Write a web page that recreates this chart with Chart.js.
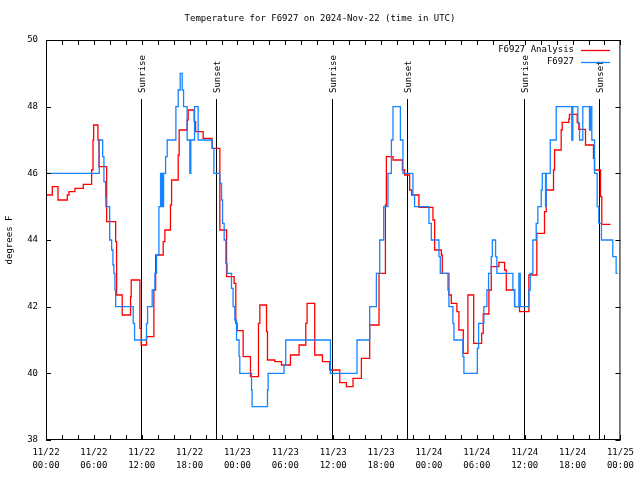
<!DOCTYPE html>
<html>
<head>
<meta charset="utf-8" />
<title>Temperature for F6927</title>
<style>
  html, body { margin: 0; padding: 0; background: #fff; }
  canvas { display: block; }
</style>
</head>
<body>
<canvas id="chart" width="640" height="480"></canvas>
<script src="https://cdn.jsdelivr.net/npm/chart.js@4"></script>
<script>
// hours since 11/22 00:00 UTC where the value changes, and the value (deg F)
var redHours = [0, 0.79, 1.5, 2.67, 2.88, 3.63, 4.67, 5.72, 5.89, 5.97,
  6.51, 6.64, 7.6, 8.73, 8.85, 9.55, 10.6, 10.68, 11.77, 11.93,
  12.6, 13.52, 13.74, 14.69, 14.9, 15.6, 15.74, 16.57, 16.69, 17.69,
  17.82, 18.57, 18.75, 19.7, 20.82, 21.79, 22.63, 23.58, 23.79, 23.96,
  24.71, 25.63, 26.63, 26.8, 27.64, 27.76, 28.68, 29.51, 30.64, 31.72,
  32.56, 32.72, 33.68, 34.65, 35.56, 36.82, 37.65, 38.48, 39.53, 40.57,
  41.74, 42.54, 42.66, 43.49, 44.67, 44.95, 45.58, 45.83, 46.74, 48.5,
  48.71, 49.55, 49.67, 50.5, 50.8, 51.5, 51.75, 52.3, 52.88, 53.6,
  54.6, 54.8, 55.51, 55.81, 56.76, 57.48, 57.69, 58.73, 59.35, 60.52,
  61.52, 62.48, 62.7, 63.61, 63.74, 64.57, 64.7, 65.53, 65.61, 66.58,
  66.78, 67.62, 68.62, 68.75, 69.5, 69.66, 70.75];
var redTemps = [45.35, 45.6, 45.2, 45.35, 45.45, 45.55, 45.67, 46.1, 47.0, 47.45,
  47.0, 46.2, 44.55, 43.95, 42.35, 41.75, 42.3, 42.8, 41.35, 40.85,
  41.1, 42.5, 43.55, 43.95, 44.3, 45.05, 45.8, 46.55, 47.3, 47.6,
  47.9, 47.55, 47.25, 47.05, 46.75, 44.3, 42.9, 42.7, 41.5, 41.28,
  40.5, 39.9, 41.5, 42.05, 41.25, 40.4, 40.35, 40.25, 40.55, 40.85,
  41.5, 42.1, 40.55, 40.35, 40.1, 39.72, 39.6, 39.85, 40.45, 41.45,
  43.0, 45.05, 46.5, 46.4, 46.1, 45.95, 45.5, 45.35, 44.98, 44.6,
  43.7, 43.55, 43.0, 42.35, 42.1, 41.85, 41.3, 40.6, 42.35, 40.9,
  41.2, 41.78, 42.5, 43.2, 43.33, 43.1, 42.5, 42.0, 41.85, 42.95,
  44.2, 44.85, 45.5, 46.1, 46.7, 47.3, 47.53, 47.63, 47.77, 47.53,
  47.32, 46.85, 46.45, 46.1, 45.3, 44.47, 44.47];

var blueHours = [0, 6.67, 7.1, 7.26, 7.47, 7.51, 7.98, 8.23, 8.39, 8.51,
  8.64, 8.73, 10.93, 11.1, 12.6, 12.73, 13.31, 13.65, 13.86, 14.15,
  14.36, 14.48, 14.56, 14.65, 14.74, 14.99, 15.19, 16.28, 16.57, 16.82,
  17.07, 17.24, 17.69, 18.03, 18.15, 18.62, 19.07, 20.82, 21.04, 21.79,
  22.0, 22.13, 22.33, 22.54, 22.7, 23.25, 23.45, 23.67, 23.88, 24.2,
  24.29, 25.76, 25.83, 27.76, 27.84, 29.84, 30.05, 35.65, 38.98, 40.57,
  41.41, 41.83, 42.33, 42.86, 43.29, 43.49, 44.42, 44.74, 45.99, 46.2,
  48.0, 48.3, 49.25, 49.42, 50.38, 50.5, 51.0, 51.13, 52.25, 52.38,
  54.06, 54.22, 54.88, 55.26, 55.47, 55.81, 55.94, 56.35, 56.51, 58.52,
  58.73, 59.27, 59.44, 60.52, 60.69, 61.02, 61.44, 61.65, 62.07, 62.2,
  62.61, 62.7, 63.2, 63.95, 65.9, 66.03, 66.66, 66.87, 67.28, 68.12,
  68.24, 68.41, 68.75, 69.08, 69.29, 69.62, 71.04, 71.46, 71.63];
var blueTemps = [46.0, 47.0, 46.5, 45.75, 45.3, 45.0, 44.0, 43.7, 43.25, 43.0,
  42.5, 42.0, 41.5, 41.0, 41.5, 42.0, 42.5, 43.0, 43.55, 45.0,
  46.0, 45.0, 46.0, 45.0, 46.0, 46.5, 47.0, 48.0, 48.5, 49.0,
  48.5, 48.0, 47.0, 46.0, 47.0, 48.0, 47.0, 46.75, 46.0, 45.7,
  45.2, 44.5, 44.0, 43.3, 43.0, 42.55, 42.0, 41.6, 41.0, 40.5,
  40.0, 39.5, 39.0, 39.5, 40.0, 40.25, 41.0, 40.0, 41.0, 42.0,
  43.0, 44.0, 45.0, 46.0, 47.0, 48.0, 47.0, 46.0, 45.35, 45.0,
  44.5, 44.0, 43.5, 43.0, 42.5, 42.0, 41.5, 41.0, 40.5, 40.0,
  40.75, 41.5, 42.0, 42.5, 43.0, 43.5, 44.0, 43.5, 43.0, 42.5,
  42.0, 43.0, 42.0, 42.5, 43.0, 44.0, 44.5, 45.0, 45.5, 46.0,
  45.0, 46.0, 47.0, 48.0, 47.0, 48.0, 47.5, 47.0, 48.0, 47.3,
  48.0, 47.0, 46.0, 45.0, 44.5, 44.0, 43.5, 43.0, 43.0];

var sunHours = [11.9, 21.3, 35.85, 45.24, 59.9, 69.3];
var sunLabels = ["Sunrise", "Sunset", "Sunrise", "Sunset", "Sunrise", "Sunset"];

var tickHours = [0, 6, 12, 18, 24, 30, 36, 42, 48, 54, 60, 66, 72];
var tickDates = ["11/22", "11/22", "11/22", "11/22", "11/23", "11/23", "11/23",
  "11/23", "11/24", "11/24", "11/24", "11/24", "11/25"];
var tickTimes = ["00:00", "06:00", "12:00", "18:00", "00:00", "06:00", "12:00",
  "18:00", "00:00", "06:00", "12:00", "18:00", "00:00"];

var FONT = '"DejaVu Sans Mono", monospace';
Chart.defaults.font.family = FONT;
Chart.defaults.font.size = 9;
Chart.defaults.color = "#000";

function toPoints(hours, temps) {
  return hours.map(function (h, i) { return { x: h, y: temps[i] }; });
}

// frame, tics, sun lines, title and legend, gnuplot style
var decor = {
  id: "decor",
  beforeDatasetsDraw: function (chart) {
    var c = chart.ctx, a = chart.chartArea, xs = chart.scales.x;
    c.save();
    c.strokeStyle = "#000";
    c.lineWidth = 1;
    c.font = "9px " + FONT;
    c.fillStyle = "#000";
    sunHours.forEach(function (h, i) {
      var px = Math.round(xs.getPixelForValue(h)) + 0.5;
      c.beginPath();
      c.moveTo(px, 99);
      c.lineTo(px, a.bottom);
      c.stroke();
      c.save();
      c.translate(px + 1, 93);
      c.rotate(-Math.PI / 2);
      c.textAlign = "left";
      c.textBaseline = "middle";
      c.fillText(sunLabels[i], 0, 0);
      c.restore();
    });
    c.restore();
  },
  afterDatasetsDraw: function (chart) {
    var c = chart.ctx, a = chart.chartArea, xs = chart.scales.x, ys = chart.scales.y;
    c.save();
    c.strokeStyle = "#000";
    c.lineWidth = 1;
    c.strokeRect(a.left + 0.5, a.top + 0.5, a.right - a.left - 1, a.bottom - a.top - 1);
    c.beginPath();
    for (var h = 0; h <= 72; h += 2) {
      var px = Math.round(xs.getPixelForValue(h)) + 0.5;
      c.moveTo(px, a.bottom); c.lineTo(px, a.bottom - 5);
      c.moveTo(px, a.top); c.lineTo(px, a.top + 5);
    }
    for (var t = 38; t <= 50; t += 2) {
      var py = Math.round(ys.getPixelForValue(t)) + 0.5;
      c.moveTo(a.left, py); c.lineTo(a.left + 5, py);
      c.moveTo(a.right, py); c.lineTo(a.right - 5, py);
    }
    c.stroke();

    c.fillStyle = "#000";
    c.font = "9px " + FONT;
    c.textAlign = "center";
    c.textBaseline = "middle";
    c.fillText("Temperature for F6927 on 2024-Nov-22 (time in UTC)", 320, 19);
    c.save();
    c.translate(10, 240);
    c.rotate(-Math.PI / 2);
    c.fillText("degrees F", 0, 0);
    c.restore();

    var ds = chart.data.datasets;
    c.textAlign = "right";
    ds.forEach(function (d, i) {
      var y = 50 + i * 12;
      c.fillStyle = "#000";
      c.fillText(d.label, 574, y);
      c.strokeStyle = d.borderColor;
      c.lineWidth = 1.3;
      c.beginPath();
      c.moveTo(581, y + 0.5);
      c.lineTo(610, y + 0.5);
      c.stroke();
    });
    c.restore();
  }
};

var ctx = document.getElementById("chart");
var chart = new Chart(ctx, {
  type: "line",
  data: {
    datasets: [
      {
        label: "F6927 Analysis",
        data: toPoints(redHours, redTemps),
        borderColor: "#ff0000",
        borderWidth: 1.3,
        stepped: true,
        pointRadius: 0,
        fill: false,
        order: 1
      },
      {
        label: "F6927",
        data: toPoints(blueHours, blueTemps),
        borderColor: "#1484ff",
        borderWidth: 1.3,
        stepped: true,
        pointRadius: 0,
        fill: false,
        order: 0
      }
    ]
  },
  options: {
    responsive: false,
    animation: false,
    layout: { padding: { top: 40, right: 19, left: 0, bottom: 0 } },
    plugins: { legend: { display: false }, tooltip: { enabled: false } },
    scales: {
      x: {
        type: "linear",
        min: 0,
        max: 72,
        grid: { display: false, drawTicks: false },
        border: { display: false },
        afterFit: function (s) { s.height = 40; },
        afterBuildTicks: function (s) {
          s.ticks = tickHours.map(function (v) { return { value: v }; });
        },
        ticks: {
          autoSkip: false,
          maxRotation: 0,
          padding: 6,
          font: { size: 9, lineHeight: 1.45 },
          callback: function (v) {
            var i = tickHours.indexOf(v);
            return [tickDates[i], tickTimes[i]];
          }
        }
      },
      y: {
        min: 38,
        max: 50,
        grid: { display: false, drawTicks: false },
        border: { display: false },
        afterFit: function (s) { s.width = 46; },
        ticks: { stepSize: 2, padding: 8 }
      }
    }
  },
  plugins: [decor]
});
</script>
</body>
</html>
